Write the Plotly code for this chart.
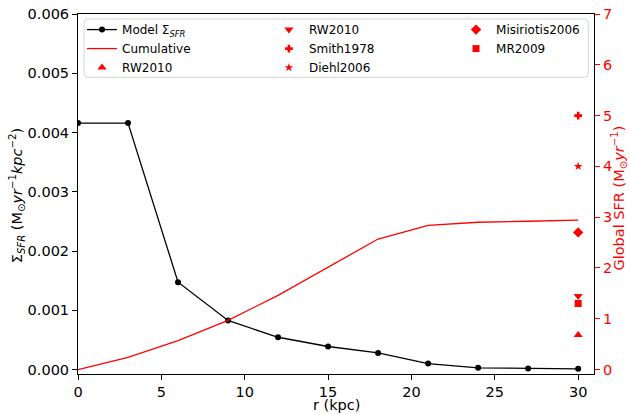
import plotly.graph_objects as go

# Radial bins (kpc)
r_kpc = [0, 3, 6, 9, 12, 15, 18, 21, 24, 27, 30]

# Model star-formation surface density (Msun / yr / kpc^2)
sigma_sfr = [0.00416, 0.00416, 0.001475, 0.000828, 0.000545, 0.000389,
             0.00028, 0.000101, 0.000029, 0.000017, 0.000012]

# Cumulative global SFR (Msun / yr)
cumulative_sfr = [0.0, 0.24, 0.57, 0.97, 1.46, 2.01, 2.57, 2.84, 2.90, 2.92, 2.94]

# Literature global SFR estimates, all shown at r = 30 kpc
lit_r = 30
lit_names = ["RW2010", "RW2010", "Smith1978", "Diehl2006", "Misiriotis2006", "MR2009"]
lit_sfr = [0.68, 1.45, 5.0, 4.0, 2.7, 1.3]
lit_symbols = ["triangle-up", "triangle-down", "cross", "star", "diamond", "square"]
lit_sizes = [8, 8, 6.5, 6.5, 8, 7]
lit_legend = ["legend", "legend2", "legend2", "legend2", "legend3", "legend3"]

left_ticks = [0, 0.001, 0.002, 0.003, 0.004, 0.005, 0.006]
right_ticks = [0, 1, 2, 3, 4, 5, 6, 7]
x_ticks = [0, 5, 10, 15, 20, 25, 30]

x_title = "r (kpc)"
y_title = "Σ<sub><i>SFR</i></sub> (M<sub>⊙</sub><i>yr</i><sup>−1</sup><i>kpc</i><sup>−2</sup>)"
y2_title = "Global SFR (M<sub>⊙</sub><i>yr</i><sup>−1</sup>)"

FONT = "DejaVu Sans"
RED = "#ff0000"

fig = go.Figure()

fig.add_trace(go.Scatter(
    x=r_kpc, y=sigma_sfr, mode="lines+markers",
    name="Model Σ<sub><i>SFR</i></sub>",
    line=dict(color="black", width=1.3),
    marker=dict(color="black", size=6),
    legend="legend",
))
fig.add_trace(go.Scatter(
    x=r_kpc, y=cumulative_sfr, mode="lines", name="Cumulative",
    line=dict(color=RED, width=1.3), yaxis="y2", legend="legend",
))
for name, val, sym, sz, lg in zip(lit_names, lit_sfr, lit_symbols, lit_sizes, lit_legend):
    fig.add_trace(go.Scatter(
        x=[lit_r], y=[val], mode="markers", name=name,
        marker=dict(color=RED, symbol=sym, size=sz, line=dict(width=0)),
        yaxis="y2", legend=lg,
    ))

# legend frame (rounded rectangle) in paper coordinates
x0, x1, y0, y1 = 0.0116, 0.9889, 0.8242, 0.9861
rx, ry = 4 / 516, 4 / 360
frame = (f"M {x0+rx},{y1} L {x1-rx},{y1} Q {x1},{y1} {x1},{y1-ry} "
         f"L {x1},{y0+ry} Q {x1},{y0} {x1-rx},{y0} L {x0+rx},{y0} "
         f"Q {x0},{y0} {x0},{y0+ry} L {x0},{y1-ry} Q {x0},{y1} {x0+rx},{y1} Z")

legend_common = dict(
    font=dict(family=FONT, size=12, color="black"),
    bgcolor="rgba(0,0,0,0)", borderwidth=0, yanchor="top", xanchor="left",
    y=0.997, orientation="v",
)

# axis titles placed as paper-anchored annotations
titles = [
    dict(text=x_title, x=0.5, y=-0.0875, textangle=0, font=dict(size=14.5, color="black")),
    dict(text=y_title, x=-0.1192, y=0.495, textangle=-90, font=dict(size=14.5, color="black")),
    dict(text=y2_title, x=1.0484, y=0.49, textangle=-90, font=dict(size=14.5, color=RED)),
]
annotations = [dict(xref="paper", yref="paper", showarrow=False,
                    xanchor="center", yanchor="middle", **t) for t in titles]

fig.update_layout(
    width=630, height=414,
    margin=dict(l=78, r=36, t=14, b=40, autoexpand=False),
    paper_bgcolor="white", plot_bgcolor="white",
    font=dict(family=FONT, size=14.5, color="black"),
    shapes=[dict(type="path", path=frame, xref="paper", yref="paper",
                 line=dict(color="#d6d6d6", width=1),
                 fillcolor="rgba(255,255,255,0.8)", layer="above")],
    annotations=annotations,
    legend=dict(x=0.0078, **legend_common),
    legend2=dict(x=0.370, **legend_common),
    legend3=dict(x=0.7326, **legend_common),
    xaxis=dict(
        range=[0, 30.95], tickvals=x_ticks, showgrid=False, zeroline=False,
        showline=True, linecolor="black", linewidth=1, mirror=True,
        ticks="outside", ticklen=5, tickcolor="black", automargin=False,
        tickfont=dict(size=14.5),
    ),
    yaxis=dict(
        range=[-0.000075, 0.006], tickvals=left_ticks, tickformat=".3f",
        showgrid=False, zeroline=False, showline=True, linecolor="black",
        linewidth=1, ticks="outside", ticklen=5, tickcolor="black",
        automargin=False, tickfont=dict(size=14.5),
    ),
    yaxis2=dict(
        range=[-0.0875, 7], tickvals=right_ticks, overlaying="y", side="right",
        showgrid=False, zeroline=False, showline=True, linecolor="black",
        linewidth=1, ticks="outside", ticklen=5, tickcolor=RED,
        automargin=False, tickfont=dict(size=14.5, color=RED),
    ),
)

fig.write_html("out.html")
